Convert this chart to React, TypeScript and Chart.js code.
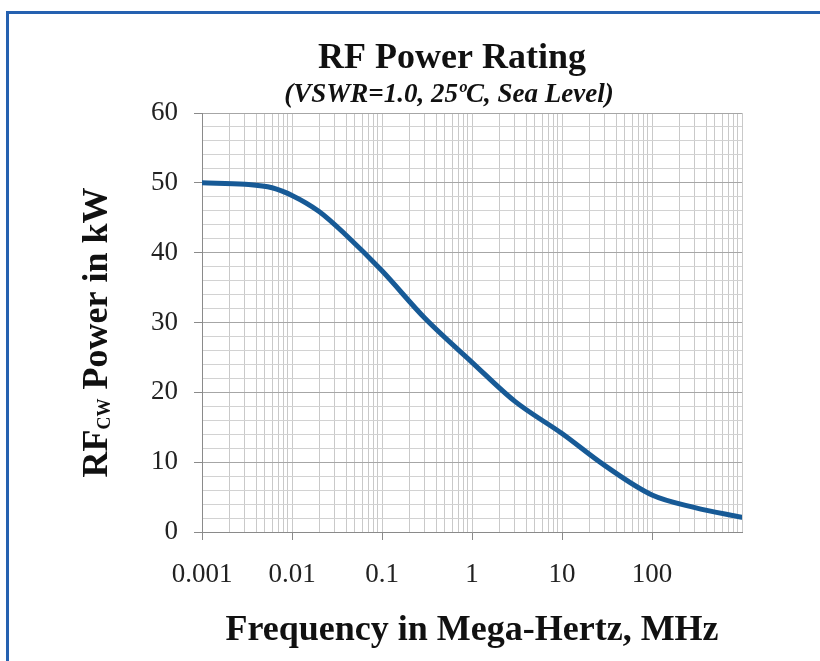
import React, { useEffect, useRef } from 'react';
import { Chart, registerables } from 'chart.js';

Chart.register(...registerables);

// ---- data ----
const frequencyMHz = [0.001, 0.003, 0.006, 0.01, 0.02, 0.04, 0.1, 0.3, 1, 3, 10, 30, 100, 300, 1000];
const powerKW = [50.0, 49.8, 49.3, 48.2, 45.9, 42.5, 37.4, 30.6, 24.3, 18.7, 14.1, 9.5, 5.3, 3.5, 2.1];

const xDecades = [0.001, 0.01, 0.1, 1, 10, 100, 1000];
const xDecadeLabels = ['0.001', '0.01', '0.1', '1', '10', '100', ''];
const xMinorMultipliers = [2, 3, 4, 5, 6, 7, 8, 9];
const yMajorTicks = [0, 10, 20, 30, 40, 50, 60];
const yMinorStep = 2;

const titleText = 'RF Power Rating';
const subtitleText = '(VSWR=1.0, 25ºC, Sea Level)';
const xTitleText = 'Frequency in Mega-Hertz, MHz';
const yTitleMain = 'RF';
const yTitleSub = 'CW';
const yTitleRest = ' Power in kW';

const SERIF = '"Liberation Serif", "Times New Roman", serif';

const isDecade = (v: number) => Math.abs(Math.log10(v) - Math.round(Math.log10(v))) < 1e-9;

const xTickValues: number[] = [];
xDecades.forEach((d, i) => {
  xTickValues.push(d);
  if (i < xDecades.length - 1) xMinorMultipliers.forEach((m) => xTickValues.push(+(d * m).toPrecision(6)));
});

// Titles (title + subtitle) and the y-axis title with its "CW" subscript
const textPlugin = {
  id: 'rfTexts',
  afterDraw(chart: any) {
    const ctx = chart.ctx as CanvasRenderingContext2D;
    const { top, bottom } = chart.chartArea;
    ctx.save();
    ctx.fillStyle = '#111';

    // title + subtitle
    ctx.textAlign = 'center';
    ctx.textBaseline = 'middle';
    ctx.font = `bold 36px ${SERIF}`;
    ctx.fillText(titleText, 452, 59);
    ctx.font = `italic bold 27px ${SERIF}`;
    ctx.fillText(subtitleText, 449, 95);

    // y-axis title
    const bigFont = `bold 36px ${SERIF}`;
    const smallFont = `bold 18px ${SERIF}`;
    ctx.font = bigFont;
    const w1 = ctx.measureText(yTitleMain).width;
    const w3 = ctx.measureText(yTitleRest).width;
    ctx.font = smallFont;
    const w2 = ctx.measureText(yTitleSub).width;
    const total = w1 + w2 + w3;
    ctx.translate(107, (top + bottom) / 2 + 10);
    ctx.rotate(-Math.PI / 2);
    ctx.textBaseline = 'alphabetic';
    ctx.textAlign = 'left';
    let x = -total / 2;
    ctx.font = bigFont;
    ctx.fillText(yTitleMain, x, 0);
    x += w1;
    ctx.font = smallFont;
    ctx.fillText(yTitleSub, x, 3);
    x += w2;
    ctx.font = bigFont;
    ctx.fillText(yTitleRest, x, 0);
    ctx.restore();
  },
};

export default function App() {
  const canvasRef = useRef<HTMLCanvasElement | null>(null);

  useEffect(() => {
    if (!canvasRef.current) return;
    const chart = new Chart(canvasRef.current, {
      type: 'line',
      data: {
        datasets: [
          {
            label: 'RF CW Power',
            data: frequencyMHz.map((f, i) => ({ x: f, y: powerKW[i] })),
            borderColor: '#175a96',
            borderWidth: 5,
            pointRadius: 0,
            fill: false,
            cubicInterpolationMode: 'monotone',
            borderCapStyle: 'round',
            borderJoinStyle: 'round',
          },
        ],
      },
      options: {
        responsive: false,
        animation: false,
        layout: { padding: { left: 130, right: 78, top: 113, bottom: 8 } },
        plugins: {
          legend: { display: false },
          tooltip: { enabled: false },
          title: { display: false },
          subtitle: { display: false },
        },
        scales: {
          x: {
            type: 'logarithmic',
            min: xDecades[0],
            max: xDecades[xDecades.length - 1],
            afterBuildTicks: (scale: any) => {
              scale.ticks = xTickValues.map((v) => ({ value: v }));
            },
            afterFit: (scale: any) => {
              scale.height = 121;
            },
            ticks: {
              autoSkip: false,
              maxRotation: 0,
              minRotation: 0,
              padding: 19,
              color: '#222',
              font: { family: SERIF, size: 27 },
              callback: (value: any) => {
                const v = Number(value);
                const idx = xDecades.findIndex((d) => Math.abs(d - v) / d < 1e-9);
                return idx >= 0 ? xDecadeLabels[idx] : '';
              },
            },
            grid: {
              color: '#c9c9c9',
              lineWidth: 1,
              drawTicks: true,
              tickLength: 8,
              tickColor: (ctx: any) =>
                ctx.tick && isDecade(ctx.tick.value) && ctx.tick.value < 1000 ? '#8a8a8a' : 'rgba(0,0,0,0)',
            },
            border: { display: true, color: '#8a8a8a', width: 1 },
            title: {
              display: true,
              text: xTitleText,
              color: '#111',
              font: { family: SERIF, size: 36, weight: 'bold', lineHeight: 1.2 },
              padding: { top: 0, bottom: 1 },
            },
          },
          y: {
            type: 'linear',
            min: yMajorTicks[0],
            max: yMajorTicks[yMajorTicks.length - 1],
            afterFit: (scale: any) => {
              scale.width = 72;
            },
            ticks: {
              stepSize: yMinorStep,
              autoSkip: false,
              padding: 16,
              color: '#222',
              font: { family: SERIF, size: 27 },
              callback: (value: any) => (yMajorTicks.includes(Number(value)) ? String(value) : ''),
            },
            grid: {
              color: (ctx: any) => (ctx.tick && yMajorTicks.includes(ctx.tick.value) ? '#a6a6a6' : '#d2d2d2'),
              lineWidth: 1,
              drawTicks: true,
              tickLength: 8,
              tickColor: (ctx: any) => (ctx.tick && yMajorTicks.includes(ctx.tick.value) ? '#8a8a8a' : 'rgba(0,0,0,0)'),
            },
            border: { display: true, color: '#8a8a8a', width: 1 },
          },
        },
      },
      plugins: [textPlugin],
    } as any);
    return () => chart.destroy();
  }, []);

  return (
    <div style={{ position: 'fixed', left: 0, top: 0, width: 820, height: 661, overflow: 'hidden', background: '#ffffff' }}>
      <div
        style={{
          position: 'absolute',
          left: 6,
          top: 11,
          width: 2000,
          height: 2000,
          borderLeft: '3px solid #2561b0',
          borderTop: '3px solid #2561b0',
        }}
      />
      <canvas ref={canvasRef} width={820} height={661} style={{ position: 'absolute', left: 0, top: 0 }} />
    </div>
  );
}
